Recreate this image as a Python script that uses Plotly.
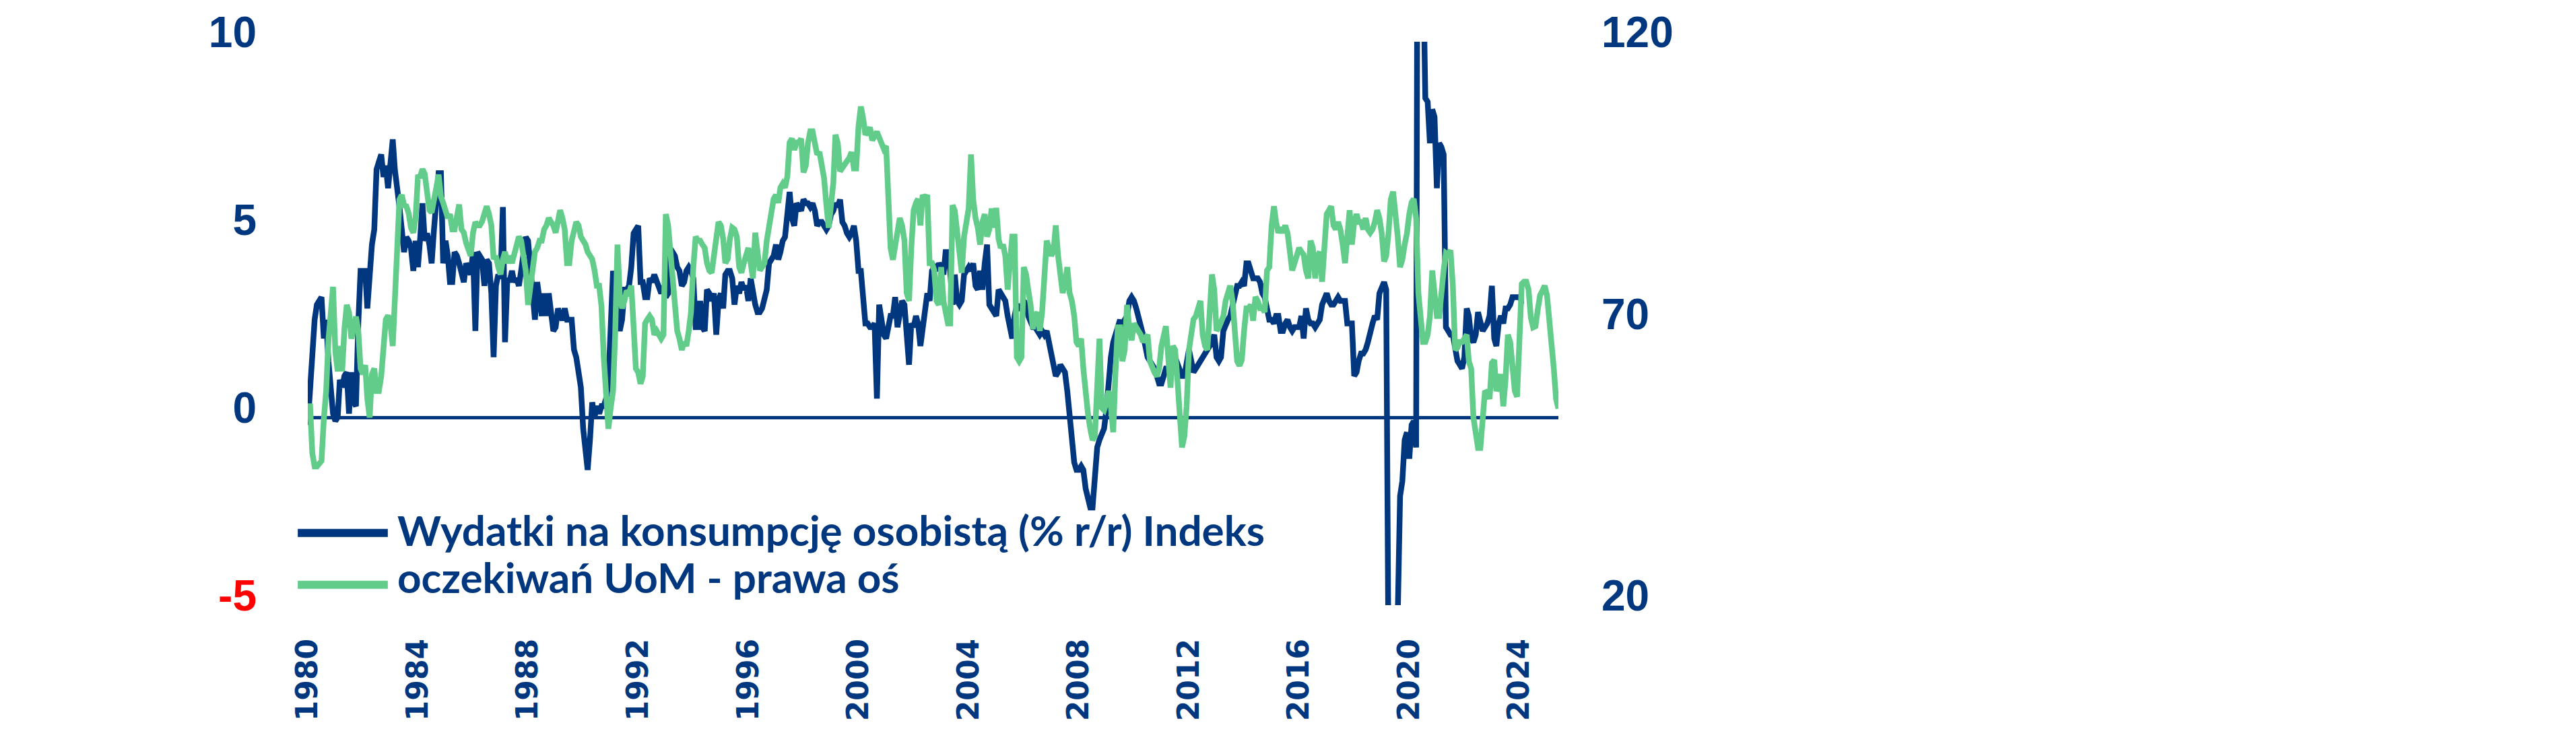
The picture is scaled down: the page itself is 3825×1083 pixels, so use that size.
import pandas as pd
import plotly.graph_objects as go

# ---------------- data (monthly) ----------------
# Wydatki na konsumpcję osobistą (% r/r) - left axis, from Jan 1980
pce_1980s = [
    -0.2, 1.0, 2.0, 2.6, 3.0, 3.1, 3.2, 2.1, 2.6, 1.5, 0.5, 0.1,
    -0.1, 0.0, 1.0, 0.8, 1.1, 1.2, 0.1, 1.2, 0.4, 0.3, 2.5, 3.9,
    3.9, 3.9, 2.9, 4.1, 4.6, 5.0, 6.6, 6.8, 7.0, 6.4, 6.7, 6.1,
    6.9, 7.4, 6.6, 5.9, 5.6, 5.0, 4.4, 4.8, 4.7, 4.5, 3.9, 4.7,
    4.0, 4.8, 5.7, 4.7, 4.9, 4.6, 4.1, 5.0, 5.7, 6.5, 6.5, 4.1,
    4.7, 4.3, 3.6, 3.6, 4.4, 4.3, 4.1, 3.9, 3.6, 4.1, 3.9, 3.8,
    4.4, 2.3, 4.4, 4.3, 4.2, 3.5, 4.2, 4.1, 3.3, 1.6, 3.5, 3.8,
    3.7, 5.6, 2.0, 3.7, 3.6, 3.9, 3.6, 3.7, 3.5, 3.9, 4.5, 4.8,
    4.7, 3.9, 3.2, 2.6, 3.6, 3.0, 2.7, 3.3, 2.7, 3.3, 2.8, 2.3,
    2.4, 2.9, 2.7, 2.6, 2.9, 2.6, 2.6, 2.6, 1.8, 1.6, 1.2, 0.8,
]
pce_1990s = [
    -0.3, -1.1, -1.4, -0.6, 0.4, 0.0, 0.3, 0.1, 0.3, 0.3, 0.5, 0.9,
    2.5, 3.9, 3.4, 2.8, 2.3, 2.6, 3.4, 3.4, 3.5, 4.0, 4.9, 5.0,
    5.1, 3.6, 3.6, 3.2, 3.2, 3.7, 3.6, 3.8, 3.6, 3.4, 3.3, 3.5,
    3.2, 3.3, 4.5, 4.4, 4.3, 4.0, 3.9, 3.5, 3.6, 3.9, 4.0, 3.9,
    3.7, 2.4, 2.4, 3.1, 2.4, 2.3, 3.4, 3.3, 3.1, 3.3, 2.2, 3.1,
    3.3, 2.9, 3.8, 3.9, 3.9, 3.7, 3.0, 3.5, 3.3, 3.6, 3.4, 3.5,
    3.1, 3.7, 3.3, 3.0, 2.8, 2.8, 2.9, 3.1, 3.4, 4.1, 4.2, 4.3,
    4.6, 4.2, 4.4, 4.7, 4.8, 5.6, 6.0, 5.3, 5.1, 5.7, 5.6, 5.5,
    5.8, 5.7, 5.7, 5.6, 5.7, 5.5, 5.1, 5.2, 5.2, 5.1, 5.0, 5.1,
    5.4, 5.5, 5.7, 5.6, 5.8, 5.2, 5.1, 4.9, 4.8, 4.9, 5.1, 4.7,
]
pce_2000s = [
    3.9, 3.9, 3.0, 2.5, 2.5, 2.4, 2.4, 2.5, 0.5, 3.0, 2.6, 2.2,
    2.1, 2.5, 2.7, 2.7, 3.2, 2.4, 2.7, 3.1, 3.0, 2.4, 1.4, 2.5,
    2.4, 2.7, 2.5, 1.9, 2.4, 3.1, 3.3, 3.1, 3.9, 4.0, 3.9, 4.1,
    4.0, 3.8, 4.4, 4.4, 3.9, 3.0, 3.8, 3.1, 3.0, 3.1, 3.8, 3.9,
    4.0, 3.9, 4.1, 3.5, 3.4, 3.9, 3.4, 4.1, 4.6, 3.0, 2.9, 2.8,
    2.7, 3.4, 3.3, 3.2, 3.1, 2.7, 2.3, 2.1, 2.7, 3.0, 2.9, 2.9,
    3.1, 3.0, 2.7, 2.5, 2.4, 2.4, 2.3, 2.2, 2.3, 2.2, 2.3, 2.0,
    1.6, 1.4, 1.1, 1.2, 1.4, 1.3, 1.2, 0.7, 0.1, -0.8, -1.2, -1.4,
    -1.4, -1.3, -1.4, -1.9, -2.2, -2.4, -2.4, -1.7, -0.8, -0.6, -0.4, -0.3,
    0.2, 1.0, 1.6, 2.0, 2.2, 2.5, 2.6, 2.1, 2.6, 2.7, 3.1, 3.2,
]
pce_2010s = [
    3.1, 2.9, 2.7, 2.4, 2.2, 1.9, 1.6, 1.5, 1.4, 1.3, 1.1, 0.9,
    0.9, 1.1, 1.3, 1.3, 1.5, 1.6, 1.6, 1.4, 1.2, 1.1, 1.1, 1.4,
    1.8, 1.5, 1.2, 1.3, 1.4, 1.5, 1.6, 1.7, 1.8, 1.9, 2.0, 2.2,
    1.6, 1.5, 1.6, 2.3, 2.5, 2.6, 2.7, 3.0, 3.3, 3.5, 3.5, 3.6,
    3.5, 4.1, 4.1, 3.9, 3.7, 3.7, 3.7, 3.6, 3.3, 3.2, 2.8, 2.6,
    2.6, 2.5, 2.7, 2.7, 2.3, 2.3, 2.5, 2.6, 2.4, 2.3, 2.4, 2.4,
    2.4, 2.7, 2.1, 2.9, 2.6, 2.5, 2.5, 2.4, 2.5, 2.6, 3.0, 3.2,
    3.3, 3.1, 3.0, 3.0, 3.1, 3.2, 3.1, 3.1, 3.1, 2.5, 2.5, 2.5,
    1.1, 1.2, 1.5, 1.7, 1.7, 1.8, 2.0, 2.3, 2.5, 2.7, 2.6, 3.3,
    3.5, 3.6, 3.4, -6.0, -16.5, -11.0, -6.0, -5.3, -2.1, -1.7, -0.6, -0.4,
]
pce_2020s = [
    -1.1, -0.2, -0.1, -0.8, 25.0, 16.0, 11.0, 8.5, 8.4, 7.3, 8.2, 8.0,
    6.1, 7.3, 7.2, 7.0, 2.4, 2.3, 2.2, 2.2, 1.7, 1.5, 1.4, 1.3,
    1.6, 2.9, 2.7, 2.1, 2.0, 2.2, 2.8, 2.5, 2.3, 2.4, 2.5, 2.7,
    3.5, 2.1, 1.9, 2.5, 2.7, 2.5, 2.9, 2.9, 3.0, 3.2, 3.2, 3.2,
    3.2, 3.1, 3.1,
]

# Indeks oczekiwań UoM - right axis, from Jan 1980
uom_1980s = [
    55.3, 55.3, 47.0, 44.6, 44.6, 45.0, 45.6, 53.0, 58.0, 67.0, 72.0, 76.5,
    65.0, 61.5, 66.0, 61.5, 69.0, 73.3, 72.0, 67.3, 69.3, 71.2, 68.7, 62.0,
    61.0, 62.6, 56.6, 53.3, 61.0, 62.0, 58.0, 58.0, 60.6, 66.6, 70.7, 71.4,
    70.0, 66.0, 73.0, 84.7, 92.0, 92.8, 91.0, 90.8, 89.5, 87.0, 86.1, 88.7,
    96.0, 96.1, 97.4, 96.5, 93.0, 90.1, 89.7, 91.4, 94.1, 96.4, 92.5, 91.4,
    90.1, 88.7, 89.4, 86.7, 86.7, 88.7, 91.1, 86.7, 86.1, 84.3, 82.7, 82.0,
    86.1, 88.0, 87.4, 87.4, 88.1, 89.4, 90.8, 89.4, 87.4, 81.4, 82.0, 80.0,
    78.7, 81.4, 82.7, 80.7, 82.0, 80.7, 82.0, 83.4, 85.4, 84.7, 82.0, 79.4,
    73.3, 76.7, 80.7, 82.7, 83.4, 84.7, 84.7, 86.7, 87.4, 88.7, 88.0, 87.4,
    86.1, 88.7, 90.1, 88.7, 86.7, 80.7, 80.7, 84.7, 86.1, 88.0, 87.4, 85.4,
]
uom_1990s = [
    84.7, 84.0, 82.7, 82.0, 81.4, 79.4, 76.7, 76.7, 73.0, 64.0, 58.6, 51.3,
    55.0, 58.0, 68.0, 84.0, 75.0, 72.7, 74.0, 75.8, 75.4, 76.7, 69.4, 62.0,
    61.3, 59.3, 60.6, 70.0, 70.7, 71.3, 70.7, 68.0, 68.7, 68.0, 67.3, 68.0,
    89.4, 87.4, 82.7, 78.7, 74.0, 68.7, 67.3, 65.3, 66.7, 66.0, 68.7, 72.0,
    80.0, 85.4, 84.7, 84.7, 84.0, 83.4, 80.7, 79.4, 79.0, 82.0, 85.0, 88.0,
    87.4, 85.0, 80.7, 81.4, 85.0, 87.0, 86.7, 85.4, 80.0, 79.0, 80.7, 82.0,
    83.4, 80.7, 78.0, 86.1, 82.0, 79.4, 80.0, 80.7, 84.7, 87.4, 88.7, 92.1,
    92.8, 91.4, 94.1, 94.8, 94.1, 96.1, 102.1, 102.8, 100.8, 102.1, 102.1, 102.8,
    96.8, 98.0, 102.0, 104.1, 104.1, 102.0, 100.0, 100.4, 98.5, 95.8, 91.0, 87.0,
    91.0, 95.0, 103.5, 102.0, 97.0, 97.5, 98.1, 98.8, 99.4, 100.4, 97.5, 97.5,
]
uom_2000s = [
    105.0, 108.5, 106.5, 103.5, 104.0, 104.8, 102.5, 103.5, 104.0, 103.0, 102.0, 101.0,
    101.5, 90.8, 83.4, 81.3, 84.0, 86.1, 88.7, 87.4, 84.7, 75.4, 74.0, 83.4,
    90.1, 91.4, 92.1, 87.4, 92.8, 92.1, 92.8, 80.7, 80.7, 79.4, 74.0, 73.3,
    80.0, 74.0, 71.3, 70.0, 70.0, 91.0, 90.0, 86.0, 82.5, 79.0, 85.4, 88.7,
    90.4, 100.0, 92.0, 88.7, 87.0, 84.0, 88.0, 89.4, 85.4, 86.7, 90.4, 87.0,
    90.5, 85.0, 83.4, 84.0, 82.0, 76.0, 82.0, 85.4, 85.4, 64.0, 63.3, 64.0,
    80.0, 78.7, 76.0, 73.3, 69.0, 71.3, 72.0, 68.7, 72.0, 79.0, 84.7, 83.4,
    82.0, 83.0, 87.4, 82.0, 79.4, 75.4, 77.0, 80.0, 75.4, 74.0, 71.3, 66.7,
    66.0, 67.3, 62.0, 57.3, 54.0, 51.3, 49.3, 50.0, 60.0, 67.3, 55.0, 54.6,
    56.0, 58.0, 55.3, 50.7, 61.3, 69.3, 69.3, 63.3, 65.3, 73.3, 69.3, 67.0,
]
uom_2010s = [
    70.0, 69.3, 68.7, 68.0, 66.7, 67.3, 68.0, 63.3, 62.0, 61.3, 60.6, 62.0,
    66.0, 68.7, 69.5, 64.0, 58.6, 66.0, 65.3, 60.0, 52.0, 48.0, 50.0, 55.3,
    65.3, 69.3, 70.7, 71.3, 72.7, 74.0, 68.0, 66.0, 65.3, 71.3, 78.7, 76.0,
    68.7, 69.3, 70.0, 71.3, 74.0, 76.0, 76.7, 74.0, 69.3, 63.3, 62.5, 63.5,
    68.7, 72.7, 72.7, 73.3, 70.5, 74.7, 74.0, 72.7, 72.7, 72.0, 79.4, 80.0,
    87.4, 90.8, 88.0, 86.1, 87.0, 86.1, 87.4, 86.0, 82.7, 79.4, 80.7, 82.0,
    83.4, 82.7, 82.2, 79.4, 78.0, 84.7, 83.4, 78.0, 82.0, 82.7, 77.4, 83.4,
    89.4, 90.1, 90.8, 87.4, 86.7, 88.0, 86.7, 84.0, 80.7, 85.4, 90.1, 84.0,
    88.0, 89.4, 88.0, 88.0, 86.7, 88.7, 86.7, 86.1, 86.7, 88.0, 90.1, 88.7,
    86.0, 81.0, 82.0, 86.1, 92.0, 93.4, 90.0, 85.4, 80.0, 81.3, 84.0, 86.0,
]
uom_2020s = [
    89.4, 91.5, 92.1, 88.7, 75.4, 70.0, 66.7, 66.7, 68.0, 71.3, 79.4, 75.4,
    71.3, 71.3, 76.0, 79.4, 82.5, 82.2, 83.0, 76.7, 65.3, 65.7, 66.7, 66.7,
    67.3, 68.0, 63.3, 62.0, 53.3, 50.0, 47.9, 47.9, 53.0, 58.0, 57.7, 56.6,
    63.0, 63.5, 58.0, 59.0, 61.0, 55.3, 60.0, 68.0, 66.7, 61.0, 58.0, 57.0,
    70.0, 77.0, 77.4, 77.4, 76.0, 71.0, 69.3, 69.5, 72.5, 75.0, 75.8, 76.7,
    75.0, 71.0, 66.0, 62.0, 56.6, 54.9,
]

tick_years = [1980, 1984, 1988, 1992, 1996, 2000, 2004, 2008, 2012, 2016, 2020, 2024]
left_ticks = [-5, 0, 5, 10]
right_ticks = [20, 70, 120]
series_names = ["Wydatki na konsumpcję osobistą (% r/r) Indeks",
                "oczekiwań UoM - prawa oś"]

# ---------------- build ----------------
pce = pce_1980s + pce_1990s + pce_2000s + pce_2010s + pce_2020s
uom = uom_1980s + uom_1990s + uom_2000s + uom_2010s + uom_2020s
pce_dates = pd.date_range("1980-01-01", periods=len(pce), freq="MS")
uom_dates = pd.date_range("1980-01-01", periods=len(uom), freq="MS")

NAVY = "#00377F"
GREEN = "#62CD8A"
RED = "#FF0000"

fig = go.Figure()
fig.add_trace(go.Scatter(x=pce_dates, y=pce, mode="lines", name=series_names[0],
                         line=dict(color=NAVY, width=8.5), yaxis="y"))
fig.add_trace(go.Scatter(x=uom_dates, y=uom, mode="lines", name=series_names[1],
                         line=dict(color=GREEN, width=8.5), yaxis="y2"))

axis_font = dict(family="Liberation Sans, Arial", size=64, color=NAVY, weight="bold")
left_text = [f'<span style="color:{RED}">{v}</span>' if v < 0 else str(v) for v in left_ticks]

fig.update_layout(
    width=3825, height=1083,
    margin=dict(l=457, r=1511, t=49, b=176),
    paper_bgcolor="white", plot_bgcolor="white",
    showlegend=False,
    xaxis=dict(
        type="date",
        range=["1980-01-01", "2025-06-01"],
        tickvals=[f"{y}-01-01" for y in tick_years],
        ticktext=[str(y) for y in tick_years],
        tickangle=-90,
        tickfont=dict(family="DejaVu Sans", size=44, color=NAVY, weight="bold"),
        showgrid=False, zeroline=False, showline=False, ticks="",
        ticklabelstandoff=40,
    ),
    yaxis=dict(
        range=[-5, 10],
        tickvals=left_ticks, ticktext=left_text,
        tickfont=axis_font,
        showgrid=False, showline=False, ticks="",
        zeroline=True, zerolinecolor=NAVY, zerolinewidth=5,
        ticklabelstandoff=75, ticklabelshift=-14, ticklabeloverflow="allow",
    ),
    yaxis2=dict(
        range=[20, 120], overlaying="y", side="right",
        tickvals=right_ticks, ticktext=[str(v) for v in right_ticks],
        tickfont=axis_font,
        showgrid=False, showline=False, zeroline=False, ticks="",
        ticklabelstandoff=63, ticklabelshift=-14, ticklabeloverflow="allow",
    ),
)

# manual legend (long line keys as in the original)
legend_rows = [(series_names[0], NAVY, 0.128, 0.134), (series_names[1], GREEN, 0.036, 0.050)]
for name, col, yline, ytext in legend_rows:
    fig.add_shape(type="line", xref="paper", yref="paper",
                  x0=-0.008, x1=0.064, y0=yline, y1=yline,
                  line=dict(color=col, width=12))
    fig.add_annotation(text=name, xref="paper", yref="paper", x=0.0705, y=ytext,
                       xanchor="left", yanchor="middle", showarrow=False,
                       font=dict(family="Lato", size=62, color=NAVY, weight="bold"))

fig.write_html("out.html")
